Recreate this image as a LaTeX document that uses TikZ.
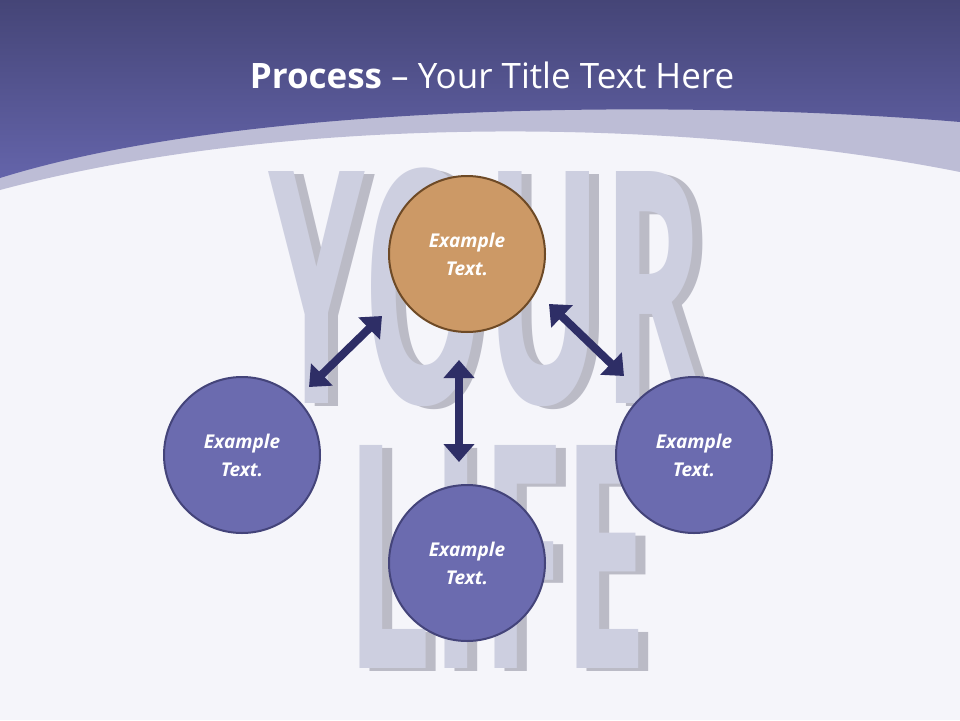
\documentclass[tikz,border=0pt]{standalone}
\usepackage{fontspec}
\setmainfont{Open Sans}
\usetikzlibrary{arrows.meta}
\definecolor{bg}{HTML}{F5F5FA}
\definecolor{hdtop}{HTML}{454577}
\definecolor{hdbot}{HTML}{6464AA}
\definecolor{band}{HTML}{BDBDD6}
\definecolor{letter}{HTML}{CDCFE0}
\definecolor{shadow}{HTML}{BBBBC6}
\definecolor{orangef}{HTML}{CC9966}
\definecolor{oranged}{HTML}{6E4A26}
\definecolor{bluef}{HTML}{6B6BAF}
\definecolor{blued}{HTML}{44447A}
\definecolor{arr}{HTML}{2E2E66}
\tikzset{
 bub/.style={circle,minimum size=156pt,line width=2pt,text=white,font=\fontsize{19}{28}\selectfont\bfseries\itshape,align=center},
 blueb/.style={bub,fill=bluef,draw=blued},
 orb/.style={bub,fill=orangef,draw=oranged},
 dbl/.style={line width=8pt,arr,{Triangle[length=18pt,width=30pt]}-{Triangle[length=18pt,width=30pt]}},
 big/.style={font=\fontsize{250}{250}\selectfont\bfseries,inner sep=0}
}
\begin{document}
\begin{tikzpicture}[x=1pt,y=-1pt]
\useasboundingbox (0,0) rectangle (960,720);
\fill[bg] (0,0) rectangle (960,720);
% background letters
\node[big,shadow,xscale=0.62,yscale=1.3] at (497,290) {YOUR};
\node[big,letter,xscale=0.62,yscale=1.3] at (487,287) {YOUR};
\node[big,shadow,xscale=0.6,yscale=1.25] at (507,560) {LIFE};
\node[big,letter,xscale=0.6,yscale=1.25] at (497,557) {LIFE};
% header
\fill[band] (0,0) -- (960,0) -- (960,172) .. controls (700,120) and (300,110) .. (0,190) -- cycle;
\shade[top color=hdtop,bottom color=hdbot] (0,0) -- (960,0) -- (960,122) .. controls (700,100) and (250,100) .. (0,178) -- cycle;
\node[text=white,font=\fontsize{35}{38}\selectfont] (title) at (492,75) {\textbf{Process} -- Your Title Text Here};
% circles
\node[orb] (t) at (467,254) {Example\\Text.};
\node[blueb] (l) at (242,455) {Example\\Text.};
\node[blueb] (b) at (467,563) {Example\\Text.};
\node[blueb] (r) at (694,455) {Example\\Text.};
\coordinate (a1) at (382,316); \coordinate (a2) at (309,387);
\coordinate (b1) at (549,304); \coordinate (b2) at (624,376);
\coordinate (c1) at (459,360); \coordinate (c2) at (459,462);
\draw[dbl] (a1) -- (a2);
\draw[dbl] (b1) -- (b2);
\draw[dbl] (c1) -- (c2);
\end{tikzpicture}
\end{document}
